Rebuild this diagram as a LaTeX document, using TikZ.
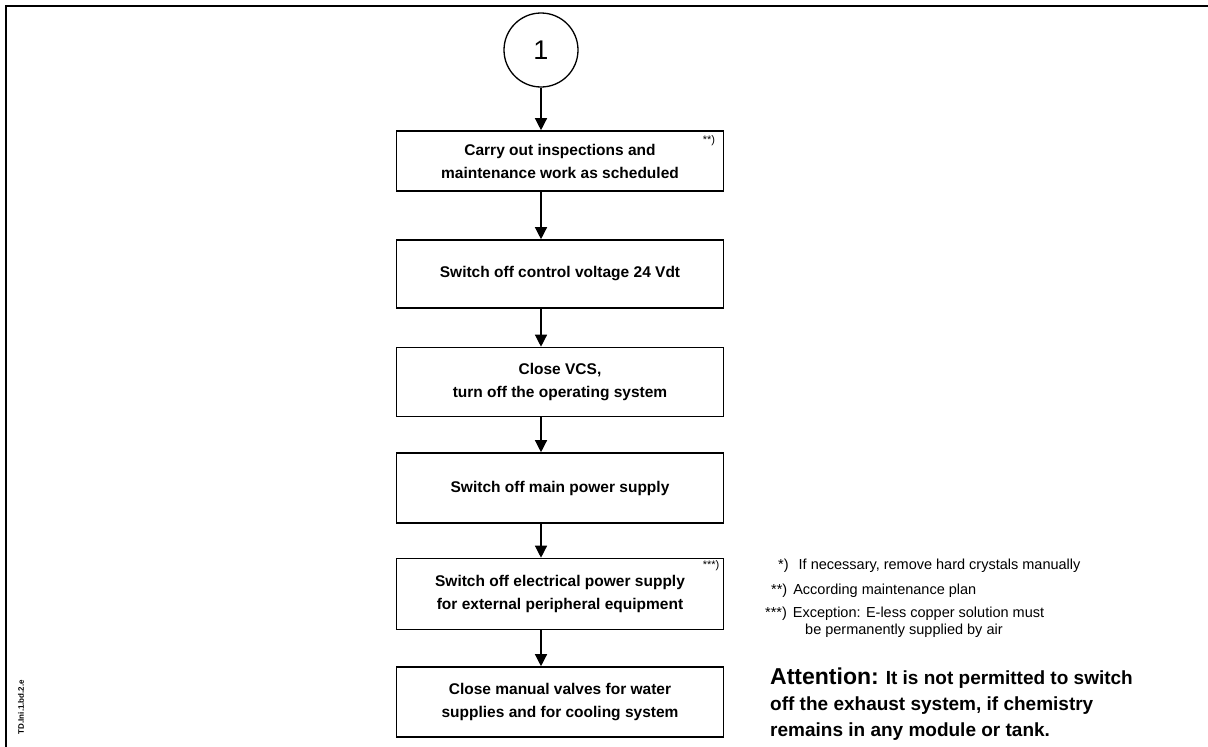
\documentclass[tikz,border=0pt]{standalone}
\usepackage{fontspec}
\setmainfont{Liberation Sans}
\usetikzlibrary{arrows.meta,calc}
\begin{document}
\begin{tikzpicture}[x=1pt,y=-1pt,
  stepbox/.style={draw,line width=1.6pt,minimum width=327pt,align=center,font=\bfseries\fontsize{15.5}{23}\selectfont,inner sep=0pt},
  flow/.style={line width=1.3pt,-{Triangle[width=12pt,length=12pt]}},
  note/.style={anchor=base west,inner sep=0pt,font=\fontsize{14.5}{16}\selectfont},
  att/.style={anchor=base west,inner sep=0pt,font=\bfseries\fontsize{19}{22}\selectfont}]
\useasboundingbox (0,0) rectangle (1208,747);
\draw[line width=2.5pt] (6,747) -- (6,6) -- (1208,6);
\node[draw,circle,line width=1.3pt,minimum size=74pt,inner sep=0pt,font=\fontsize{27}{27}\selectfont] (c) at (541,50) {1};
\node[stepbox,minimum height=60pt] (b1) at (560,161) {Carry out inspections and\\maintenance work as scheduled};
\node[stepbox,minimum height=68pt] (b2) at (560,274) {Switch off control voltage 24 Vdt};
\node[stepbox,minimum height=69pt] (b3) at (560,382) {Close VCS,\\turn off the operating system};
\node[stepbox,minimum height=70pt] (b4) at (560,488) {Switch off main power supply};
\node[stepbox,minimum height=71pt] (b5) at (560,594) {Switch off electrical power supply\\for external peripheral equipment};
\node[stepbox,minimum height=70pt] (b6) at (560,702) {Close manual valves for water\\supplies and for cooling system};
\node[inner sep=0pt,font=\fontsize{11}{11}\selectfont] (s1) at (709,141) {**)};
\node[inner sep=0pt,font=\fontsize{11}{11}\selectfont] (s5) at (711,566) {***)};
\draw[flow] (c.south) -- (b1.north -| c.south);
\draw[flow] (b1.south -| c.south) -- (b2.north -| c.south);
\draw[flow] (b2.south -| c.south) -- (b3.north -| c.south);
\draw[flow] (b3.south -| c.south) -- (b4.north -| c.south);
\draw[flow] (b4.south -| c.south) -- (b5.north -| c.south);
\draw[flow] (b5.south -| c.south) -- (b6.north -| c.south);
\node[note] (n1) at (778,569) {*)\hspace{10pt}If necessary, remove hard crystals manually};
\node[note] (n2) at (771,594) {**)\hspace{6pt}According maintenance plan};
\node[note] (n3) at (765,617) {***)\hspace{6pt}Exception: E-less copper solution must};
\node[note] (n4) at (805,634) {be permanently supplied by air};
\node[att] (a1) at (770,684) {{\fontsize{23}{23}\selectfont Attention:} It is not permitted to switch};
\node[att] (a2) at (770,710) {off the exhaust system, if chemistry};
\node[att] (a3) at (770,736) {remains in any module or tank.};
\node[rotate=90,inner sep=0pt,font=\bfseries\fontsize{8}{8}\selectfont] (id) at (21,707) {TD.Ini.1.bd.2.e};
\end{tikzpicture}
\end{document}
